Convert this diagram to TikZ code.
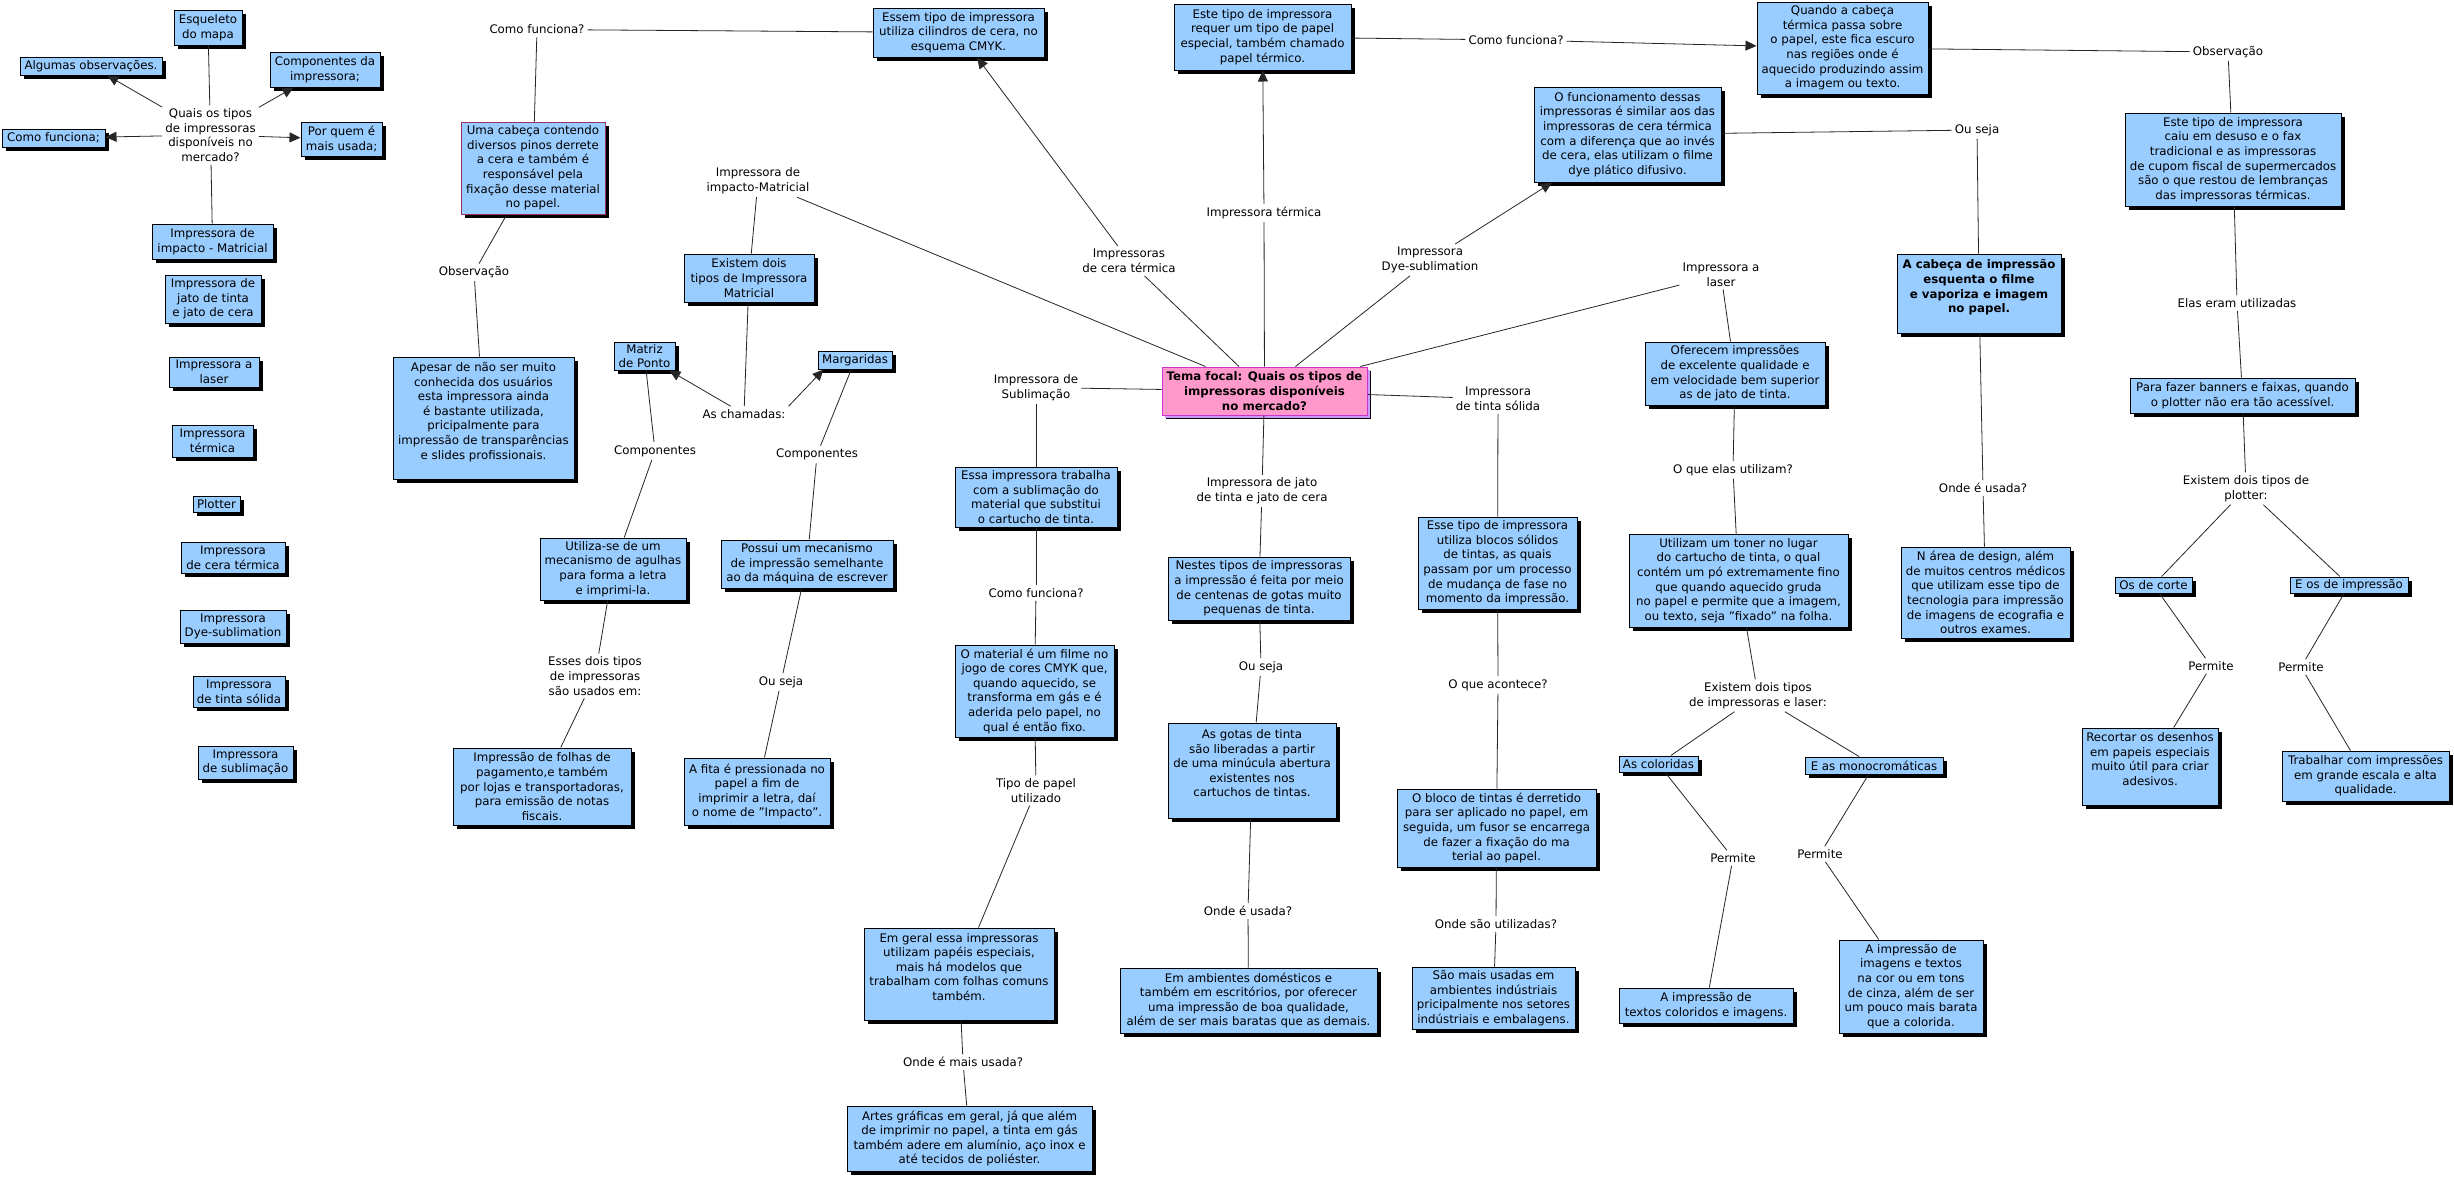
\documentclass[tikz,border=0pt]{standalone}
\usepackage{fontspec}
\setmainfont{DejaVu Sans}
\usetikzlibrary{shadows,arrows.meta}
\definecolor{boxblue}{HTML}{99CCFF}
\definecolor{temapink}{HTML}{FF99CC}
\definecolor{temaborder}{HTML}{CC33CC}
\definecolor{temashadow}{HTML}{CC99FF}
\definecolor{umaborder}{HTML}{993366}
\tikzset{
  mapfont/.style={font=\fontsize{11.8}{14.6}\selectfont},
  box/.style={mapfont, draw=black, line width=1pt, fill=boxblue, align=center, inner sep=2pt,
    drop shadow={shadow xshift=4pt, shadow yshift=-4pt, fill=black, opacity=1}},
  temabox/.style={box, draw=temaborder, fill=temapink, font=\fontsize{11.8}{14.6}\selectfont\bfseries,
    drop shadow={shadow xshift=3pt, shadow yshift=-3pt, fill=temashadow, opacity=1}},
  sz/.style 2 args={minimum width=#1pt, minimum height=#2pt},
  lbl/.style={mapfont, align=center, inner sep=3pt},
  conn/.style={draw=black!85, line width=0.8pt},
  arr/.style={conn, -{Triangle[length=11pt,width=10pt]}},
}
\begin{document}
\begin{tikzpicture}[x=1pt,y=-1pt]
\fill[white] (0,0) rectangle (2454,1176);
\useasboundingbox (0,0) rectangle (2454,1176);

% ---------- left legend ----------
\node[lbl] (quais) at (210.5,135) {Quais os tipos\\de impressoras\\disponíveis no\\mercado?};
\node[box,sz={68}{35}] (esq) at (208,27.5) {Esqueleto\\do mapa};
\node[box,sz={142}{18}] (alg) at (91,66) {Algumas observações.};
\node[box,sz={110}{35}] (comp) at (325,69.5) {Componentes da\\impressora;};
\node[box,sz={103}{18}] (comof) at (53.5,138) {Como funciona;};
\node[box,sz={81}{34}] (porq) at (341.5,139) {Por quem é\\mais usada;};
\node[box,sz={121}{35}] (limp) at (212.5,241.5) {Impressora de\\impacto - Matricial};
\node[box,sz={96}{48}] (ljato) at (213,299) {Impressora de\\jato de tinta\\e jato de cera};
\node[box,sz={90}{30}] (llaser) at (214,372) {Impressora a\\laser};
\node[box,sz={81}{32}] (lterm) at (212.5,441) {Impressora\\térmica};
\node[box,sz={47}{16}] (lplot) at (216.5,504) {Plotter};
\node[box,sz={104}{31}] (lcera) at (233,557.5) {Impressora\\de cera térmica};
\node[box,sz={106}{33}] (ldye) at (233,626.5) {Impressora\\Dye-sublimation};
\node[box,sz={92}{31}] (lsol) at (239,691.5) {Impressora\\de tinta sólida};
\node[box,sz={95}{33}] (lsub) at (245.5,762.5) {Impressora\\de sublimação};

\draw[conn] (quais) -- (esq);
\draw[arr] (quais) -- (alg);
\draw[arr] (quais) -- (comp);
\draw[arr] (quais) -- (comof);
\draw[arr] (quais) -- (porq);
\draw[conn] (quais) -- (limp);

% ---------- focal ----------
\node[temabox,sz={205}{48}] (tema) at (1264.5,391) {Tema focal: Quais os tipos de\\impressoras disponíveis\\no mercado?};

% ---------- impacto / matricial ----------
\node[lbl] (lImpMat) at (758,181) {Impressora de\\impacto-Matricial};
\node[box,sz={130}{48}] (exist) at (749,278) {Existem dois\\tipos de Impressora\\Matricial};
\node[lbl] (lcham) at (744,414) {As chamadas:};
\node[box,sz={61}{28}] (matriz) at (644.5,356) {Matriz\\de Ponto};
\node[box,sz={74}{18}] (marg) at (855,360) {Margaridas};
\node[lbl] (lcomp1) at (655,451) {Componentes};
\node[lbl] (lcomp2) at (817,454.5) {Componentes};
\node[box,sz={146}{62}] (utiliza) at (613,569) {Utiliza-se de um\\mecanismo de agulhas\\para forma a letra\\e imprimi-la.};
\node[lbl] (lesses) at (595,676) {Esses dois tipos\\de impressoras\\são usados em:};
\node[box,sz={178}{77}] (folhas) at (542,786.5) {Impressão de folhas de\\pagamento,e também\\por lojas e transportadoras,\\para emissão de notas\\fiscais.};
\node[box,sz={172}{48}] (possui) at (807,564) {Possui um mecanismo\\de impressão semelhante\\ao da máquina de escrever};
\node[lbl] (louseja1) at (781,682) {Ou seja};
\node[box,sz={146}{67}] (fita) at (757,791.5) {A fita é pressionada no\\papel a fim de\\imprimir a letra, daí\\o nome de "Impacto".};

\draw[conn] (tema) -- (lImpMat);
\draw[conn] (lImpMat) -- (exist);
\draw[conn] (exist) -- (lcham);
\draw[arr] (lcham) -- (matriz);
\draw[arr] (lcham.north east) -- ([xshift=6pt]marg.south west);
\draw[conn] (matriz) -- (lcomp1);
\draw[conn] (lcomp1) -- (utiliza);
\draw[conn] (utiliza) -- (lesses);
\draw[conn] (lesses) -- (folhas);
\draw[conn] (marg) -- (lcomp2);
\draw[conn] (lcomp2) -- (possui);
\draw[conn] (possui) -- (louseja1);
\draw[conn] (louseja1) -- (fita);

% ---------- cera termica ----------
\node[lbl] (lcera2) at (1129,261) {Impressoras\\de cera térmica};
\node[box,sz={171}{49}] (essem) at (958.5,32.5) {Essem tipo de impressora\\utiliza cilindros de cera, no\\esquema CMYK.};
\node[lbl] (lcomo1) at (537,29.5) {Como funciona?};
\node[box,sz={144}{92},draw=umaborder] (uma) at (533,168) {Uma cabeça contendo\\diversos pinos derrete\\a cera e também é\\responsável pela\\fixação desse material\\no papel.};
\node[lbl] (lobs1) at (474,272.5) {Observação};
\node[box,sz={181}{122}] (apesar) at (483.5,418) {Apesar de não ser muito\\conhecida dos usuários\\esta impressora ainda\\é bastante utilizada,\\pricipalmente para\\impressão de transparências\\e slides profissionais.\\\mbox{}};

\draw[conn] (tema) -- (lcera2);
\draw[arr] (lcera2) -- (essem);
\draw[conn] (essem) -- (lcomo1);
\draw[conn] (lcomo1) -- (uma);
\draw[conn] (uma) -- (lobs1);
\draw[conn] (lobs1) -- (apesar);

% ---------- sublimacao ----------
\node[lbl] (lsubl) at (1036,387.5) {Impressora de\\Sublimação};
\node[box,sz={162}{60}] (essa) at (1036,497) {Essa impressora trabalha\\com a sublimação do\\material que substitui\\o cartucho de tinta.};
\node[lbl] (lcomo2) at (1036,593) {Como funciona?};
\node[box,sz={159}{92}] (material) at (1034.5,691) {O material é um filme no\\jogo de cores CMYK que,\\quando aquecido, se\\transforma em gás e é\\aderida pelo papel, no\\qual é então fixo.};
\node[lbl] (ltipo) at (1036,790.5) {Tipo de papel\\utilizado};
\node[box,sz={190}{92}] (emgeral) at (959,974) {Em geral essa impressoras\\utilizam papéis especiais,\\mais há modelos que\\trabalham com folhas comuns\\também.\\\mbox{}};
\node[lbl] (londe1) at (963,1062) {Onde é mais usada?};
\node[box,sz={245}{65}] (artes) at (969.5,1138.5) {Artes gráficas em geral, já que além\\de imprimir no papel, a tinta em gás\\também adere em alumínio, aço inox e\\até tecidos de poliéster.};

\draw[conn] (tema) -- (lsubl);
\draw[conn] (lsubl) -- (essa);
\draw[conn] (essa) -- (lcomo2);
\draw[conn] (lcomo2) -- (material);
\draw[conn] (material) -- (ltipo);
\draw[conn] (ltipo) -- (emgeral);
\draw[conn] (emgeral) -- (londe1);
\draw[conn] (londe1) -- (artes);

% ---------- termica ----------
\node[lbl] (lterm2) at (1264,213) {Impressora térmica};
\node[box,sz={177}{66}] (este) at (1262.5,37) {Este tipo de impressora\\requer um tipo de papel\\especial, também chamado\\papel térmico.};
\node[lbl] (lcomo3) at (1516,40) {Como funciona?};
\node[box,sz={171}{92}] (quando) at (1842.5,48) {Quando a cabeça\\térmica passa sobre\\o papel, este fica escuro\\nas regiões onde é\\aquecido produzindo assim\\a imagem ou texto.};
\node[lbl] (lobs2) at (2228,52) {Observação};
\node[box,sz={216}{93}] (caiu) at (2233,159.5) {Este tipo de impressora\\caiu em desuso e o fax\\tradicional e as impressoras\\de cupom fiscal de supermercados\\são o que restou de lembranças\\das impressoras térmicas.};
\node[lbl] (lelas) at (2237,303) {Elas eram utilizadas};
\node[box,sz={225}{35}] (banners) at (2242.5,395.5) {Para fazer banners e faixas, quando\\o plotter não era tão acessível.};
\node[lbl] (lexplot) at (2246,488.5) {Existem dois tipos de\\plotter:};
\node[box,sz={77}{16}] (corte) at (2153.5,585) {Os de corte};
\node[box,sz={118}{16}] (eimp) at (2349,585) {E os de impressão};
\node[lbl] (lperm1) at (2211,666) {Permite};
\node[lbl] (lperm2) at (2301,667) {Permite};
\node[box,sz={136}{77}] (recortar) at (2150,766.5) {Recortar os desenhos\\em papeis especiais\\muito útil para criar\\adesivos.\\\mbox{}};
\node[box,sz={167}{50}] (trabalhar) at (2365.5,776) {Trabalhar com impressões\\em grande escala e alta\\qualidade.};

\draw[conn] (tema) -- (lterm2);
\draw[arr] (lterm2) -- (este);
\draw[conn] (este) -- (lcomo3);
\draw[arr] (lcomo3) -- (quando);
\draw[conn] (quando) -- (lobs2);
\draw[conn] (lobs2) -- (caiu);
\draw[conn] (caiu) -- (lelas);
\draw[conn] (lelas) -- (banners);
\draw[conn] (banners) -- (lexplot);
\draw[conn] (lexplot) -- (corte);
\draw[conn] (lexplot) -- (eimp);
\draw[conn] (corte) -- (lperm1);
\draw[conn] (lperm1) -- (recortar);
\draw[conn] (eimp) -- (lperm2);
\draw[conn] (lperm2) -- (trabalhar);

% ---------- dye-sublimation ----------
\node[lbl] (ldye2) at (1430,260) {Impressora\\Dye-sublimation};
\node[box,sz={187}{95}] (funcion) at (1627.5,134.5) {O funcionamento dessas\\impressoras é similar aos das\\impressoras de cera térmica\\com a diferença que ao invés\\de cera, elas utilizam o filme\\dye plático difusivo.};
\node[lbl] (louseja3) at (1977,130) {Ou seja};
\node[box,sz={164}{79},font=\fontsize{11.8}{14.6}\selectfont\bfseries] (bold) at (1979,293.5) {A cabeça de impressão\\esquenta o filme\\e vaporiza e imagem\\no papel.\\\mbox{}};
\node[lbl] (londe3) at (1983,488) {Onde é usada?};
\node[box,sz={169}{91}] (narea) at (1985.5,592.5) {N área de design, além\\de muitos centros médicos\\que utilizam esse tipo de\\tecnologia para impressão\\de imagens de ecografia e\\outros exames.};

\draw[conn] (tema) -- (ldye2);
\draw[arr] (ldye2) -- (funcion);
\draw[conn] (funcion) -- (louseja3);
\draw[conn] (louseja3) -- (bold);
\draw[conn] (bold) -- (londe3);
\draw[conn] (londe3) -- (narea);

% ---------- laser ----------
\node[lbl] (llas) at (1721,274.5) {Impressora a\\laser};
\node[box,sz={180}{63}] (oferecem) at (1735,373.5) {Oferecem impressões\\de excelente qualidade e\\em velocidade bem superior\\as de jato de tinta.};
\node[lbl] (lque) at (1733,470) {O que elas utilizam?};
\node[box,sz={219}{93}] (utilizam) at (1738.5,580.5) {Utilizam um toner no lugar\\do cartucho de tinta, o qual\\contém um pó extremamente fino\\que quando aquecido gruda\\no papel e permite que a imagem,\\ou texto, seja "fixado" na folha.};
\node[lbl] (lexlas) at (1758,695.5) {Existem dois tipos\\de impressoras e laser:};
\node[box,sz={79}{16}] (colori) at (1658.5,764) {As coloridas};
\node[box,sz={138}{17}] (mono) at (1874,765.5) {E as monocromáticas};
\node[lbl] (lperm3) at (1733,858) {Permite};
\node[lbl] (lperm4) at (1820,854) {Permite};
\node[box,sz={174}{35}] (atextos) at (1706,1005.5) {A impressão de\\textos coloridos e imagens.};
\node[box,sz={144}{93}] (aimagens) at (1911,986.5) {A impressão de\\imagens e textos\\na cor ou em tons\\de cinza, além de ser\\um pouco mais barata\\que a colorida.};

\draw[conn] (tema) -- (llas);
\draw[conn] (llas) -- (oferecem);
\draw[conn] (oferecem) -- (lque);
\draw[conn] (lque) -- (utilizam);
\draw[conn] (utilizam) -- (lexlas);
\draw[conn] (lexlas) -- (colori);
\draw[conn] (lexlas) -- (mono);
\draw[conn] (colori) -- (lperm3);
\draw[conn] (lperm3) -- (atextos);
\draw[conn] (mono) -- (lperm4);
\draw[conn] (lperm4) -- (aimagens);

% ---------- jato de tinta ----------
\node[lbl] (ljato2) at (1262,491) {Impressora de jato\\de tinta e jato de cera};
\node[box,sz={182}{63}] (nestes) at (1259,588.5) {Nestes tipos de impressoras\\a impressão é feita por meio\\de centenas de gotas muito\\pequenas de tinta.};
\node[lbl] (louseja2) at (1261,667) {Ou seja};
\node[box,sz={168}{95}] (gotas) at (1252,770.5) {As gotas de tinta\\são liberadas a partir\\de uma minúcula abertura\\existentes nos\\cartuchos de tintas.\\\mbox{}};
\node[lbl] (londe2) at (1248,911) {Onde é usada?};
\node[box,sz={257}{65}] (ambientes) at (1248.5,1000.5) {Em ambientes domésticos e\\também em escritórios, por oferecer\\uma impressão de boa qualidade,\\além de ser mais baratas que as demais.};

\draw[conn] (tema) -- (ljato2);
\draw[conn] (ljato2) -- (nestes);
\draw[conn] (nestes) -- (louseja2);
\draw[conn] (louseja2) -- (gotas);
\draw[conn] (gotas) -- (londe2);
\draw[conn] (londe2) -- (ambientes);

% ---------- tinta solida ----------
\node[lbl] (lsol2) at (1498,399) {Impressora\\de tinta sólida};
\node[box,sz={159}{92}] (esse) at (1497.5,563) {Esse tipo de impressora\\utiliza blocos sólidos\\de tintas, as quais\\passam por um processo\\de mudança de fase no\\momento da impressão.};
\node[lbl] (lacont) at (1498,685) {O que acontece?};
\node[box,sz={199}{78}] (bloco) at (1496.5,828) {O bloco de tintas é derretido\\para ser aplicado no papel, em\\seguida, um fusor se encarrega\\de fazer a fixação do ma\\terial ao papel.};
\node[lbl] (lsao) at (1496,924) {Onde são utilizadas?};
\node[box,sz={163}{62}] (saomais) at (1493.5,998) {São mais usadas em\\ambientes indústriais\\pricipalmente nos setores\\indústriais e embalagens.};

\draw[conn] (tema) -- (lsol2);
\draw[conn] (lsol2) -- (esse);
\draw[conn] (esse) -- (lacont);
\draw[conn] (lacont) -- (bloco);
\draw[conn] (bloco) -- (lsao);
\draw[conn] (lsao) -- (saomais);
\end{tikzpicture}
\end{document}
